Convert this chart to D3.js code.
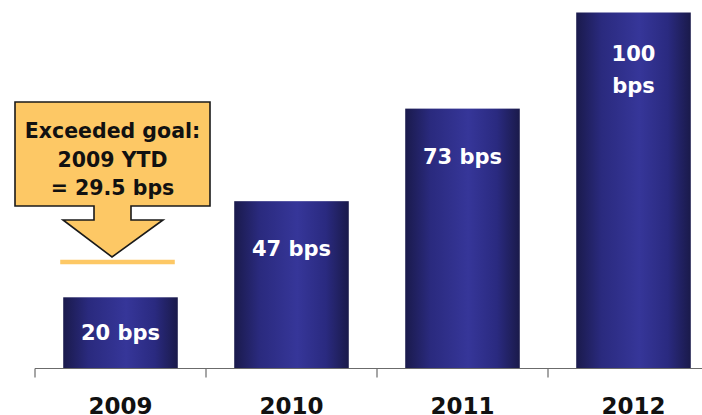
<!DOCTYPE html>
<html>
<head>
<meta charset="utf-8">
<script src="https://cdn.jsdelivr.net/npm/d3@7/dist/d3.min.js"></script>
<style>
  html, body { margin: 0; padding: 0; background: #ffffff; }
  svg { display: block; }
  text { font-family: "DejaVu Sans", Verdana, sans-serif; font-weight: bold; }
</style>
</head>
<body>
<svg id="chart" width="702" height="415"></svg>
<script>
// Annual savings in basis points
const years = ["2009", "2010", "2011", "2012"];
const bps = [20, 47, 73, 100];

// 2009 year-to-date result against the goal
const goalValue = 29.5;
const calloutLines = ["Exceeded goal:", "2009 YTD", "= " + goalValue + " bps"];

const svg = d3.select("#chart");
const W = 702, H = 415;

const x = d3.scaleBand()
  .domain(years)
  .range([35, 719])
  .paddingInner(0.33)
  .paddingOuter(0.165);

const y = d3.scaleLinear()
  .domain([0, 100])
  .range([368.5, 12.5]);

// horizontal shading on each bar: dark edges, lighter middle
const defs = svg.append("defs");
const grad = defs.append("linearGradient")
  .attr("id", "barShade")
  .attr("x1", "0%").attr("x2", "100%")
  .attr("y1", "0%").attr("y2", "0%");
[
  [0, "#1a1a4c"],
  [0.22, "#2a2a7e"],
  [0.55, "#363699"],
  [0.8, "#2a2a80"],
  [1, "#1a1a4a"]
].forEach(([o, c]) => grad.append("stop").attr("offset", o).attr("stop-color", c));

const data = years.map((yr, i) => ({ year: yr, value: bps[i] }));

// bars
svg.append("g").selectAll("rect")
  .data(data)
  .join("rect")
  .attr("x", d => x(d.year))
  .attr("y", d => y(d.value))
  .attr("width", x.bandwidth())
  .attr("height", d => y(0) - y(d.value))
  .attr("fill", "url(#barShade)");

// value labels inside bars
const labelG = svg.append("g")
  .attr("fill", "#ffffff")
  .attr("font-size", 21)
  .attr("text-anchor", "middle");

data.forEach(d => {
  const cx = x(d.year) + x.bandwidth() / 2;
  const top = y(d.value);
  const mid = (top + y(0)) / 2;
  const lines = d.value >= 100 ? [String(d.value), "bps"] : [d.value + " bps"];
  const first = lines.length > 1 ? top + 48.5 : Math.min(top + 55, mid + 7);
  const t = labelG.append("text").attr("x", cx).attr("y", first);
  lines.forEach((ln, k) => {
    t.append("tspan").attr("x", cx).attr("dy", k === 0 ? 0 : 32).text(ln);
  });
});

// category axis
const axisG = svg.append("g").attr("transform", `translate(0,${y(0)})`);
axisG.append("line")
  .attr("x1", 35).attr("x2", W + 20)
  .attr("y1", 0).attr("y2", 0)
  .attr("stroke", "#6b6b6b").attr("stroke-width", 1.2);

const pad = x.step() * x.paddingInner() / 2;
axisG.selectAll("line.tick")
  .data(years)
  .join("line")
  .attr("class", "tick")
  .attr("x1", d => x(d) - pad).attr("x2", d => x(d) - pad)
  .attr("y1", 0).attr("y2", 9)
  .attr("stroke", "#6b6b6b").attr("stroke-width", 1.2);

axisG.selectAll("text.yr")
  .data(years)
  .join("text")
  .attr("class", "yr")
  .attr("x", d => x(d) + x.bandwidth() / 2)
  .attr("y", 45.5)
  .attr("text-anchor", "middle")
  .attr("font-size", 23)
  .attr("fill", "#111111")
  .text(d => d);

// goal line at the 2009 YTD level
const gx = x("2009");
svg.append("line")
  .attr("x1", gx - 3).attr("x2", gx + x.bandwidth() - 3)
  .attr("y1", y(goalValue) - 1.5).attr("y2", y(goalValue) - 1.5)
  .attr("stroke", "#fdc865")
  .attr("stroke-width", 4.5);

// callout box with downward arrow
const tipX = 112, tipY = y(goalValue) - 6.5;
const box = { l: 15, r: 210, t: 102, b: 206 };
const stem = { l: 94, r: 131, bottom: 220 };
const head = { l: 63, r: 163 };
const path = d3.path();
path.moveTo(box.l, box.t);
path.lineTo(box.r, box.t);
path.lineTo(box.r, box.b);
path.lineTo(stem.r, box.b);
path.lineTo(stem.r, stem.bottom);
path.lineTo(head.r, stem.bottom);
path.lineTo(tipX, tipY);
path.lineTo(head.l, stem.bottom);
path.lineTo(stem.l, stem.bottom);
path.lineTo(stem.l, box.b);
path.lineTo(box.l, box.b);
path.closePath();

svg.append("path")
  .attr("d", path.toString())
  .attr("fill", "#fdc865")
  .attr("stroke", "#1a1a1a")
  .attr("stroke-width", 1.6)
  .attr("stroke-linejoin", "miter");

svg.append("g")
  .attr("text-anchor", "middle")
  .attr("font-size", 20.5)
  .attr("fill", "#111111")
  .selectAll("text")
  .data(calloutLines)
  .join("text")
  .attr("x", 112.5)
  .attr("y", (d, i) => 138 + i * 28.5)
  .text(d => d);
</script>
</body>
</html>
